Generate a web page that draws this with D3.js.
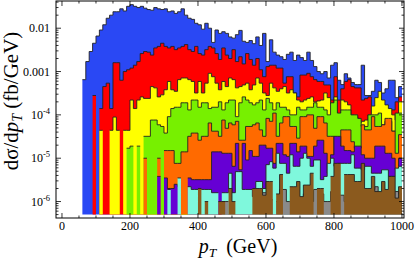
<!DOCTYPE html>
<html><head><meta charset="utf-8">
<script src="https://cdn.jsdelivr.net/npm/d3@7"></script>
<style>
html,body{margin:0;padding:0;background:#fff;}
svg{display:block;}
text{font-family:"Liberation Serif","DejaVu Serif",serif;fill:#000;}
</style></head><body>
<svg id="chart" width="416" height="267"></svg>
<script>
// bin left edges (GeV), 10 GeV bins
const binLo = d3.range(60, 1000, 10);
const binWidth = 10;

// dσ/dpT (fb/GeV) per bin, 0 = empty bin
const blue = [6.5e-4,1.7e-3,2.9e-3,4.5e-3,6.6e-3,9.1e-3,1.2e-2,1.7e-2,2.0e-2,2.4e-2,
 2.4e-2,2.8e-2,2.5e-2,3.2e-2,
 3.5e-2,3.2e-2,3.0e-2,3.2e-2,2.9e-2,2.7e-2,2.6e-2,3.0e-2,2.8e-2,2.7e-2,
 2.8e-2,2.4e-2,2.5e-2,2.2e-2,2.4e-2,2.8e-2,2.0e-2,1.7e-2,1.6e-2,1.3e-2,
 1.2e-2,9.5e-3,1.3e-2,1.0e-2,4.7e-3,9.1e-3,7.6e-3,8.3e-3,7.6e-3,6.3e-3,
 5.9e-3,7.1e-3,8.9e-3,5.0e-3,4.7e-3,5.2e-3,4.4e-3,6.3e-3,4.0e-3,7.6e-3,
 1.7e-3,5.4e-3,2.8e-3,2.4e-3,2.2e-3,1.9e-3,2.5e-3,2.8e-3,1.8e-3,2.4e-3,
 2.1e-3,1.8e-3,2.8e-3,1.8e-3,1.3e-3,1.0e-3,8.9e-4,1.0e-3,7.1e-4,1.4e-3,
 1.6e-3,6.3e-4,5.0e-4,8.9e-4,7.1e-4,5.6e-4,5.0e-4,5.0e-4,1.4e-3,2.8e-4,
 2.8e-4,3.5e-4,6.3e-4,5.6e-4,3.2e-4,4.0e-4,6.3e-4,6.3e-4,2.5e-4,4.5e-4];
const red = [0,0,0,2.8e-4,0,1.4e-4,4.5e-4,5.4e-4,1.4e-4,1.6e-3,
 1.6e-3,6.3e-4,1.0e-3,1.1e-3,
 1.2e-3,1.4e-3,1.7e-3,2.6e-3,2.9e-3,2.8e-3,2.4e-3,3.5e-3,3.8e-3,4.5e-3,
 3.8e-3,3.5e-3,3.8e-3,3.2e-3,3.5e-3,3.8e-3,4.2e-3,3.2e-3,2.9e-3,3.8e-3,
 2.6e-3,2.4e-3,3.2e-3,3.8e-3,3.5e-3,2.6e-3,1.9e-3,3.5e-3,2.4e-3,2.0e-3,
 3.2e-3,1.7e-3,2.2e-3,1.5e-3,2.6e-3,1.9e-3,1.4e-3,2.0e-3,1.1e-3,7.6e-4,
 1.3e-3,1.4e-3,1.4e-3,1.2e-3,1.2e-3,5.4e-4,7.6e-4,7.6e-4,3.2e-4,2.6e-4,
 8.3e-4,8.3e-4,9.1e-4,7.6e-4,6.5e-4,5.9e-4,5.9e-4,4.9e-4,4.9e-4,2.2e-4,
 7.6e-4,2.2e-4,4.0e-4,5.9e-4,6.5e-4,4.5e-4,4.2e-4,4.2e-4,2.2e-4,2.4e-4,
 2.6e-4,9.1e-5,1.3e-4,1.3e-4,1.1e-4,1.1e-4,1.3e-4,1.3e-4,2.0e-4,2.6e-4];
const yellow = [0,0,0,0,0,4.4e-5,0,0,4.4e-5,8.9e-5,
 4.4e-5,0,4.4e-5,4.4e-5,
 2.2e-4,1.4e-4,2.2e-4,2.6e-4,2.4e-4,2.4e-4,4.5e-4,4.2e-4,2.6e-4,2.9e-4,
 3.8e-4,5.9e-4,3.8e-4,3.5e-4,6.5e-4,7.1e-4,7.1e-4,6.5e-4,5.9e-4,3.2e-4,
 5.9e-4,3.2e-4,5.4e-4,9.1e-4,7.6e-4,5.4e-4,3.8e-4,5.9e-4,4.5e-4,7.1e-4,
 6.5e-4,4.2e-4,4.5e-4,4.9e-4,5.4e-4,3.8e-4,4.9e-4,7.1e-4,5.4e-4,3.2e-4,
 2.8e-4,5.4e-4,4.2e-4,3.5e-4,4.0e-4,4.5e-4,3.2e-4,3.8e-4,3.2e-4,2.2e-4,
 2.0e-4,2.2e-4,2.4e-4,2.6e-4,2.0e-4,2.1e-4,2.2e-4,3.2e-4,2.5e-4,1.8e-4,
 2.6e-4,1.0e-4,2.2e-4,2.0e-4,1.7e-4,1.0e-4,9.1e-5,6.5e-5,7.1e-5,7.6e-5,
 1.0e-4,1.6e-4,2.5e-4,3.5e-4,2.2e-4,1.7e-4,1.4e-4,1.0e-4,7.6e-5,2.0e-4];
const green = [0,0,0,0,0,0,0,0,0,0,
 0,0,0,1.7e-5,
 1.9e-5,0,1.9e-5,0,3.2e-5,3.2e-5,7.6e-5,7.6e-5,5.9e-5,5.4e-5,
 3.8e-5,9.1e-5,1.4e-4,1.5e-4,1.5e-4,1.9e-4,1.9e-4,1.3e-4,2.2e-4,2.2e-4,
 1.5e-4,1.9e-4,1.9e-4,1.4e-4,1.5e-4,1.5e-4,2.0e-4,1.3e-4,1.9e-4,2.2e-4,
 2.2e-4,9.1e-5,1.9e-4,2.6e-4,2.2e-4,1.9e-4,1.7e-4,1.9e-4,2.2e-4,1.3e-4,
 2.4e-4,1.9e-4,1.3e-4,1.9e-4,1.5e-4,1.5e-4,1.3e-4,1.0e-4,1.0e-4,1.5e-4,
 1.3e-4,1.3e-4,1.5e-4,1.5e-4,1.9e-4,1.5e-4,1.5e-4,1.3e-4,1.0e-4,1.9e-4,
 2.2e-4,1.1e-4,1.3e-4,1.3e-4,1.3e-4,1.0e-4,1.0e-4,8.3e-5,5.4e-5,5.4e-5,
 1.0e-4,1.0e-4,1.0e-4,1.1e-4,5.9e-5,7.1e-5,7.1e-5,4.2e-5,1.1e-4,1.1e-4];
const orange = [0,0,0,0,0,0,0,0,0,0,
 0,0,0,0,
 0,0,0,0,1.0e-5,0,0,0,1.0e-5,0,
 1.5e-5,1.5e-5,1.5e-5,7.6e-6,7.6e-6,1.4e-5,1.4e-5,3.2e-5,3.8e-5,3.8e-5,
 2.6e-5,3.2e-5,3.2e-5,6.5e-5,4.2e-5,4.2e-5,3.2e-5,7.6e-5,4.9e-5,6.5e-5,
 5.9e-5,7.1e-5,2.6e-5,2.6e-5,5.4e-5,5.4e-5,5.9e-5,6.5e-5,4.5e-5,3.2e-5,
 8.3e-5,7.1e-5,1.1e-4,3.2e-5,6.5e-5,9.1e-5,9.1e-5,5.4e-5,5.4e-5,2.9e-5,
 9.1e-5,9.1e-5,1.0e-4,1.0e-4,4.9e-5,9.1e-5,9.1e-5,6.5e-5,3.2e-5,3.2e-5,
 1.2e-5,1.2e-5,4.5e-5,4.5e-5,4.5e-5,2.4e-5,1.7e-5,1.7e-5,5.9e-5,4.5e-5,
 4.5e-5,9.1e-5,5.4e-5,5.4e-5,5.9e-5,8.3e-5,8.3e-5,4.2e-5,1.3e-5,3.5e-5];
const purple = [0,0,0,0,0,0,0,0,0,0,
 0,0,0,0,
 0,0,0,0,0,0,0,0,3.8e-6,0,
 3.5e-6,2.0e-6,2.0e-6,2.5e-6,2.2e-6,0,0,3.5e-6,3.2e-6,3.2e-6,
 3.2e-6,3.2e-6,3.2e-6,3.2e-6,1.4e-5,1.4e-5,1.4e-5,1.3e-5,1.3e-5,1.3e-5,
 6.5e-6,2.2e-5,5.4e-6,2.2e-5,9.1e-6,1.5e-5,1.1e-5,1.1e-5,2.0e-5,2.0e-5,
 1.7e-5,1.7e-5,7.6e-6,2.2e-5,2.2e-5,1.2e-5,1.1e-5,2.2e-5,2.2e-5,1.4e-5,
 1.9e-5,1.9e-5,1.1e-5,1.1e-5,1.9e-5,2.6e-5,2.6e-5,1.3e-5,4.5e-6,1.2e-5,
 3.2e-5,3.2e-5,1.9e-5,1.5e-5,1.5e-5,1.4e-5,1.9e-5,1.9e-5,1.2e-5,1.0e-5,
 1.0e-5,1.0e-5,1.9e-5,1.9e-5,1.9e-5,1.3e-5,1.3e-5,1.0e-5,5.4e-6,1.0e-5];
const cyan = [0,0,0,0,0,0,0,0,0,0,
 0,0,0,0,
 0,0,0,0,0,0,0,0,0,0,
 0,1.9e-6,0,0,3.5e-6,0,0,2.2e-6,1.9e-6,1.9e-6,
 1.9e-6,1.9e-6,1.9e-6,1.9e-6,1.6e-6,1.6e-6,0,1.6e-6,1.6e-6,4.5e-6,
 1.6e-6,4.9e-6,4.9e-6,1.9e-6,1.9e-6,1.9e-6,1.3e-6,2.9e-6,2.9e-6,2.0e-6,
 7.1e-6,8.3e-6,5.9e-6,1.3e-5,7.6e-6,7.6e-6,4.5e-6,1.2e-5,6.5e-6,6.5e-6,
 1.0e-5,1.3e-5,1.0e-5,6.5e-6,9.1e-6,9.1e-6,3.2e-6,3.8e-6,7.6e-6,1.0e-5,
 6.5e-6,7.6e-6,7.6e-6,7.6e-6,7.6e-6,1.2e-5,5.9e-6,5.9e-6,5.4e-6,6.5e-6,
 6.5e-6,4.5e-6,4.5e-6,4.5e-6,5.4e-6,5.4e-6,3.8e-6,3.8e-6,5.9e-6,6.5e-6];
const gray = [0,0,0,0,0,0,0,0,0,0,
 0,0,0,0,
 0,0,0,0,0,0,0,0,0,0,
 0,0,0,0,0,0,0,0,0,0,
 0,0,0,0,0,0,0,1.0e-6,1.0e-6,0,
 0,0,0,0,0,0,0,0,1.6e-6,1.6e-6,
 0,1.1e-6,0,1.0e-6,1.9e-6,1.9e-6,1.0e-6,1.0e-6,1.3e-6,1.1e-6,
 1.1e-6,1.5e-6,1.0e-6,1.0e-6,1.9e-6,1.9e-6,1.5e-6,1.0e-6,1.0e-6,1.7e-6,
 1.7e-6,1.4e-6,1.4e-6,1.0e-6,1.0e-6,2.6e-6,1.9e-6,1.9e-6,1.1e-6,1.5e-6,
 1.9e-6,1.9e-6,2.2e-6,1.3e-6,1.3e-6,1.0e-6,9.1e-7,1.7e-6,1.7e-6,1.5e-6];
const brown = [0,0,0,0,0,0,0,0,0,0,
 0,0,0,0,
 0,0,0,0,0,0,0,0,0,0,
 0,0,0,0,0,0,0,0,0,0,
 2.0e-6,0,1.0e-6,0,0,0,1.0e-6,1.0e-6,0,2.0e-6,
 1.0e-6,0,0,0,0,0,2.0e-6,2.0e-6,2.0e-6,1.4e-6,
 2.9e-6,2.9e-6,0,1.5e-6,4.2e-6,0,0,2.2e-6,2.2e-6,2.9e-6,
 1.3e-6,2.4e-6,2.4e-6,4.5e-6,0,2.0e-6,2.0e-6,0,0,3.8e-6,
 7.6e-6,7.6e-6,0,4.2e-6,4.2e-6,4.2e-6,2.9e-6,2.9e-6,7.6e-6,2.0e-6,
 2.0e-6,3.8e-6,1.7e-6,1.7e-6,2.9e-6,1.9e-6,3.8e-6,3.8e-6,1.2e-6,2.2e-6];

const xTicks = [0,200,400,600,800,1000];
const yTicks = [1e-2,1e-3,1e-4,1e-5,1e-6];
const yTickLabels = [["0.01",""],["0.001",""],["10","-4"],["10","-5"],["10","-6"]];

const seriesList = [blue, red, yellow, green, orange, purple, cyan, gray, brown];
const seriesColors = ["#2a48f4","#ff0000","#ffff00","#77f000","#ff6a00","#6600d4","#7ff8dc","#8a8a8a","#8b5a1e"];

const L = 56, R = 404, T = 1, B = 218;
const svg = d3.select("#chart");
const x = d3.scaleLinear().domain([-17.6, 1006]).range([L, R]);
const y = d3.scaleLog().domain([Math.pow(10,-6.38), Math.pow(10,-1.372)]).range([B, T]);
const base = y(5e-7);

svg.append("clipPath").attr("id","clip").append("rect")
  .attr("x",L).attr("y",T).attr("width",R-L).attr("height",B-T);
const g = svg.append("g").attr("clip-path","url(#clip)");

function fillPath(vals){
  let d = "", i = 0;
  while(i < vals.length){
    if(!(vals[i] > 0)){ i++; continue; }
    let j = i;
    d += `M${x(binLo[i])},${base}`;
    while(j < vals.length && vals[j] > 0){
      d += `L${x(binLo[j])},${y(vals[j])}L${x(binLo[j]+binWidth)},${y(vals[j])}`;
      j++;
    }
    d += `L${x(binLo[j-1]+binWidth)},${base}Z`;
    i = j;
  }
  return d;
}
function linePath(vals){
  let d = "";
  for(let i=0;i<vals.length;i++){
    if(!(vals[i] > 0)) continue;
    const yy = y(vals[i]);
    if(i>0 && vals[i-1] > 0) d += `L${x(binLo[i])},${yy}`;
    else d += `M${x(binLo[i])},${yy}`;
    d += `L${x(binLo[i]+binWidth)},${yy}`;
  }
  return d;
}

seriesList.forEach((vals,k)=>{
  g.append("path").attr("d", fillPath(vals)).attr("fill", seriesColors[k]).attr("stroke","none");
  g.append("path").attr("d", linePath(vals)).attr("fill","none")
    .attr("stroke","#222").attr("stroke-width",0.9).attr("stroke-linejoin","miter");
});

// frame
svg.append("rect").attr("x",L).attr("y",T).attr("width",R-L).attr("height",B-T)
  .attr("fill","none").attr("stroke","#000").attr("stroke-width",1);

const ticks = svg.append("g").attr("stroke","#000").attr("stroke-width",0.8);
const xMinor = d3.range(0, 1001, 50).filter(v=>!xTicks.includes(v));
xTicks.forEach(v=>{
  ticks.append("line").attr("x1",x(v)).attr("x2",x(v)).attr("y1",B).attr("y2",B-5);
  ticks.append("line").attr("x1",x(v)).attr("x2",x(v)).attr("y1",T).attr("y2",T+5);
});
xMinor.forEach(v=>{
  ticks.append("line").attr("x1",x(v)).attr("x2",x(v)).attr("y1",B).attr("y2",B-2.5);
  ticks.append("line").attr("x1",x(v)).attr("x2",x(v)).attr("y1",T).attr("y2",T+2.5);
});
yTicks.forEach(v=>{
  ticks.append("line").attr("x1",L).attr("x2",L+5).attr("y1",y(v)).attr("y2",y(v));
  ticks.append("line").attr("x1",R).attr("x2",R-5).attr("y1",y(v)).attr("y2",y(v));
});
const yMinor = [];
[1e-7,1e-6,1e-5,1e-4,1e-3,1e-2].forEach(dec=>{ for(let m=2;m<=9;m++) yMinor.push(m*dec); });
yMinor.filter(v=>y(v)>=T && y(v)<=B).forEach(v=>{
  ticks.append("line").attr("x1",L).attr("x2",L+2.5).attr("y1",y(v)).attr("y2",y(v));
  ticks.append("line").attr("x1",R).attr("x2",R-2.5).attr("y1",y(v)).attr("y2",y(v));
});

// tick labels
xTicks.forEach(v=>{
  svg.append("text").attr("x",x(v)).attr("y",230).attr("text-anchor","middle")
    .attr("font-size",12).text(v);
});
yTicks.forEach((v,i)=>{
  const t = svg.append("text").attr("x",50).attr("y",y(v)+4).attr("text-anchor","end").attr("font-size",12);
  t.append("tspan").text(yTickLabels[i][0]);
  if(yTickLabels[i][1]) t.append("tspan").attr("font-size",8.5).attr("dy",-5).text(yTickLabels[i][1]);
});

// axis titles
const xt = svg.append("text").attr("x",238).attr("y",252.5).attr("text-anchor","middle").attr("font-size",20);
xt.append("tspan").attr("font-style","italic").text("p");
xt.append("tspan").attr("font-style","italic").attr("font-size",13.5).attr("dy",4).text("T");
xt.append("tspan").attr("dy",-4).text("\u2002(GeV)");

const yt = svg.append("text").attr("transform","translate(18,101) rotate(-90)")
  .attr("text-anchor","middle").attr("font-size",21);
yt.append("tspan").text("d\u03C3/d");
yt.append("tspan").attr("font-style","italic").text("p");
yt.append("tspan").attr("font-style","italic").attr("font-size",14).attr("dy",4).text("T");
yt.append("tspan").attr("dy",-4).text(" (fb/GeV)");
</script>
</body></html>
